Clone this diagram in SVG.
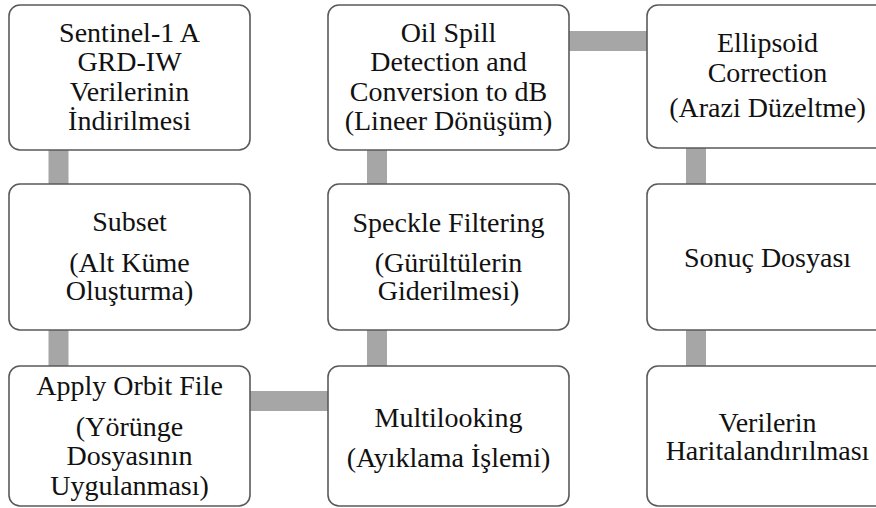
<svg xmlns="http://www.w3.org/2000/svg" width="876" height="508" viewBox="0 0 876 508">
  <style>
    .box { fill: #ffffff; stroke: #5a5a5a; stroke-width: 1.6; }
    .link { stroke: #a6a6a6; stroke-width: 20; fill: none; }
    text { font-family: "Liberation Serif", "Times New Roman", serif; font-size: 28px; fill: #111111; text-anchor: middle; }
  </style>

  <!-- connectors between process steps -->
  <g id="connectors">
    <line class="link" x1="58.5" y1="145" x2="58.5" y2="190"/>
    <line class="link" x1="58.5" y1="325" x2="58.5" y2="372"/>
    <line class="link" x1="245" y1="401" x2="333" y2="401"/>
    <line class="link" x1="377" y1="325" x2="377" y2="372"/>
    <line class="link" x1="377" y1="145" x2="377" y2="190"/>
    <line class="link" x1="564" y1="41" x2="652" y2="41"/>
    <line class="link" x1="696" y1="143" x2="696" y2="190"/>
    <line class="link" x1="696" y1="325" x2="696" y2="372"/>
  </g>

  <g id="download">
    <rect class="box" x="9" y="5" width="241" height="145" rx="11"/>
    <text x="129.5" y="42">Sentinel-1 A</text>
    <text x="129.5" y="71">GRD-IW</text>
    <text x="129.5" y="100.5">Verilerinin</text>
    <text x="129.5" y="130">İndirilmesi</text>
  </g>

  <g id="subset">
    <rect class="box" x="9" y="184" width="241" height="146" rx="11"/>
    <text x="129.5" y="231">Subset</text>
    <text x="129.5" y="271.5">(Alt Küme</text>
    <text x="129.5" y="300">Oluşturma)</text>
  </g>

  <g id="orbit">
    <rect class="box" x="9" y="366" width="241" height="140" rx="11"/>
    <text x="129.5" y="395">Apply Orbit File</text>
    <text x="129.5" y="436">(Yörünge</text>
    <text x="129.5" y="465">Dosyasının</text>
    <text x="129.5" y="495">Uygulanması)</text>
  </g>

  <g id="multilooking">
    <rect class="box" x="328" y="366" width="241" height="140" rx="11"/>
    <text x="448.5" y="427">Multilooking</text>
    <text x="448.5" y="466.5">(Ayıklama İşlemi)</text>
  </g>

  <g id="speckle">
    <rect class="box" x="328" y="184" width="241" height="146" rx="11"/>
    <text x="448.5" y="231.5">Speckle Filtering</text>
    <text x="448.5" y="271.5">(Gürültülerin</text>
    <text x="448.5" y="300">Giderilmesi)</text>
  </g>

  <g id="oilspill">
    <rect class="box" x="328" y="5" width="241" height="145" rx="11"/>
    <text x="448.5" y="42">Oil Spill</text>
    <text x="448.5" y="71">Detection and</text>
    <text x="448.5" y="100.5">Conversion to dB</text>
    <text x="448.5" y="130">(Lineer Dönüşüm)</text>
  </g>

  <g id="ellipsoid">
    <rect class="box" x="647" y="5" width="241" height="143" rx="11"/>
    <text x="767.5" y="51.5">Ellipsoid</text>
    <text x="767.5" y="81.5">Correction</text>
    <text x="767.5" y="116.5">(Arazi Düzeltme)</text>
  </g>

  <g id="result">
    <rect class="box" x="647" y="184" width="241" height="146" rx="11"/>
    <text x="767.5" y="266.5">Sonuç Dosyası</text>
  </g>

  <g id="mapping">
    <rect class="box" x="647" y="366" width="241" height="140" rx="11"/>
    <text x="767.5" y="431.5">Verilerin</text>
    <text x="767.5" y="460">Haritalandırılması</text>
  </g>
</svg>
